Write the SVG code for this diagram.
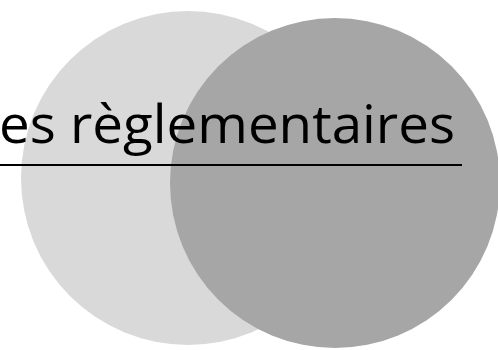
<svg xmlns="http://www.w3.org/2000/svg" width="498" height="350" viewBox="0 0 498 350">
  <style>
    .title { font-family: "Open Sans", "Liberation Sans", sans-serif; font-size: 53px; fill: #000; }
  </style>
  <rect width="498" height="350" fill="#ffffff"/>
  <g id="circle-light">
    <circle cx="188" cy="178" r="167" fill="#d9d9d9"/>
  </g>
  <g id="circle-dark">
    <circle cx="335" cy="183" r="165" fill="#a6a6a6"/>
  </g>
  <g id="title">
    <text class="title" x="-1" y="143" textLength="456" lengthAdjust="spacingAndGlyphs">es règlementaires</text>
    <line x1="0" y1="165" x2="462" y2="165" stroke="#000" stroke-width="2"/>
  </g>
</svg>
